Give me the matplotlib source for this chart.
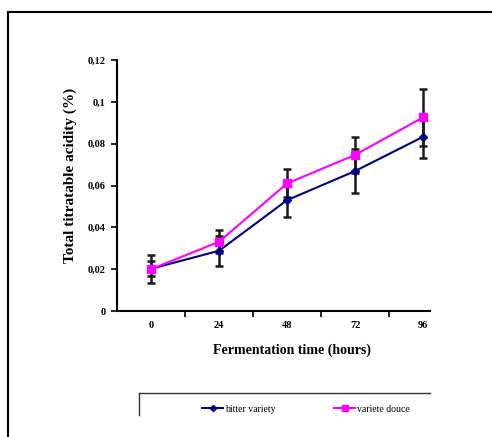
import matplotlib
matplotlib.use("Agg")
import matplotlib.pyplot as plt
from matplotlib.lines import Line2D
import numpy as np

# data
hours = ["0", "24", "48", "72", "96"]
bitter = [0.0202, 0.0288, 0.0530, 0.0669, 0.0833]
bitter_err = [0.0037, 0.0071, 0.0079, 0.0106, 0.0100]
douce = [0.0200, 0.0331, 0.0610, 0.0746, 0.0926]
douce_err = [0.0066, 0.0056, 0.0067, 0.0087, 0.0135]
yticks = [0, 0.02, 0.04, 0.06, 0.08, 0.1, 0.12]
ytick_labels = ["0", "0,02", "0,04", "0,06", "0,08", "0,1", "0,12"]

plt.rcParams['font.family'] = ['Liberation Serif', 'DejaVu Serif']
plt.rcParams['font.weight'] = 'bold'

fig = plt.figure(figsize=(4.92, 4.37), dpi=100)
ax = fig.add_axes([0.2378, 0.2883, 0.636, 0.5744])

x = np.arange(len(hours))
ax.errorbar(x, bitter, yerr=bitter_err, fmt='none', ecolor='#1a1a1a',
            elinewidth=1.8, capsize=3, capthick=1.8, zorder=2)
ax.errorbar(x, douce, yerr=douce_err, fmt='none', ecolor='#1a1a1a',
            elinewidth=1.8, capsize=3, capthick=1.8, zorder=2)
ax.plot(x, bitter, color='#000080', marker='D', markersize=4, lw=1.5,
        label='bitter variety', zorder=3)
ax.plot(x, douce, color='#FF00FF', marker='s', markersize=6, lw=1.5,
        label='variete douce', zorder=4)

ax.set_xlim(-0.5, 4.1)
ax.set_ylim(0, 0.12)
ax.set_yticks(yticks)
ax.set_yticklabels(ytick_labels)
ax.set_xticks([0.5, 1.5, 2.5, 3.5])
ax.set_xticklabels([])
ax.set_xticks(x, minor=True)
ax.set_xticklabels(hours, minor=True)
ax.tick_params(axis='x', which='minor', length=0, pad=7, labelsize=7.5)
ax.tick_params(axis='x', which='major', length=4, width=1.2, direction='out')
ax.tick_params(axis='y', length=4, width=1.2, labelsize=7.5, pad=4)

for s in ['top', 'right']:
    ax.spines[s].set_visible(False)
for s in ['left', 'bottom']:
    ax.spines[s].set_linewidth(1.5)

ax.set_xlabel("Fermentation time (hours)", fontsize=10, fontweight='bold')
ax.set_ylabel("Total titratable acidity (%)", fontsize=11, fontweight='bold')
ax.xaxis.set_label_coords(0.56, -0.13)
ax.yaxis.set_label_coords(-0.128, 0.542)

# outer frame (cut off on the right and bottom)
fig.add_artist(Line2D([8/492, 1.0], [1 - 12/437, 1 - 12/437], color='black', lw=1.5))
fig.add_artist(Line2D([8/492, 8/492], [1 - 12/437, 0], color='black', lw=1.5))

# legend box (cut off)
fig.add_artist(Line2D([139/492, 430/492], [1 - 393/437, 1 - 393/437], color='#333333', lw=1))
fig.add_artist(Line2D([139/492, 139/492], [1 - 393/437, 1 - 415/437], color='#333333', lw=1))
leg = fig.legend(loc='center', bbox_to_anchor=(306/492, 1 - 409/437), ncol=2,
                 frameon=False, prop={'size': 7, 'weight': 'normal'},
                 columnspacing=6, handlelength=2.2, handletextpad=0.2,
                 markerscale=0.8)

fig.savefig("out.png", dpi=100)
